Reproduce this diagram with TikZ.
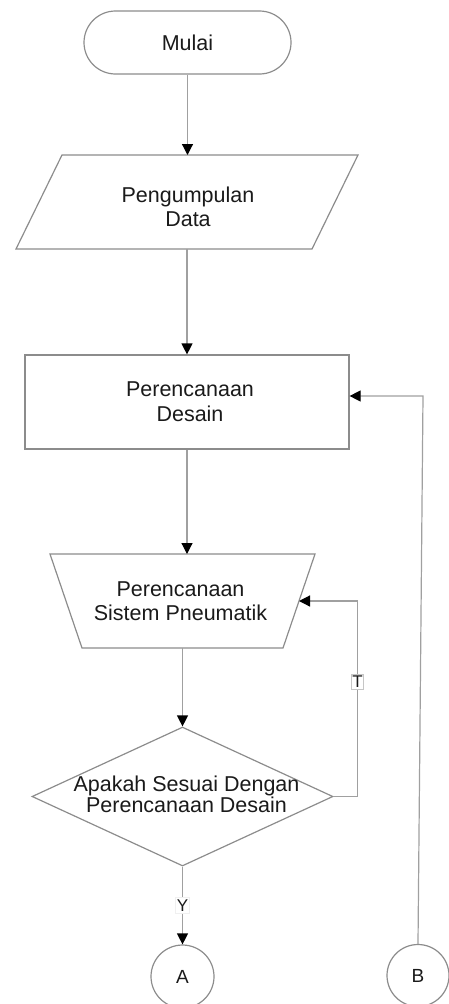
\documentclass[tikz,border=0pt]{standalone}
\usepackage{fontspec}
\setmainfont{Liberation Sans}
\usetikzlibrary{shapes.geometric,shapes.misc,arrows.meta,calc}
\definecolor{edgegray}{HTML}{8C8C8C}
\definecolor{linegray}{HTML}{A0A0A0}
\definecolor{txt}{HTML}{1A1A1A}
\begin{document}
\begin{tikzpicture}[x=1pt,y=-1pt,
  font=\fontsize{21.5}{24}\selectfont,
  shapebox/.style={draw=edgegray, line width=1.2pt, text=txt, inner sep=0pt},
  hidden/.style={draw=none, inner sep=0pt, outer sep=0pt},
  conn/.style={draw=linegray, line width=1.2pt, -{Triangle[length=11pt,width=11pt,color=black]}},
  textnode/.style={text=txt, align=center, inner sep=0pt},
  lbl/.style={fill=white, text=txt, inner xsep=1pt, inner ysep=2pt, font=\fontsize{17}{19}\selectfont}]
\useasboundingbox (0,0) rectangle (448,1004);

% shapes
\node[shapebox, rounded rectangle, minimum width=207pt, minimum height=63pt] (mulai) at (187.5,42.5) {Mulai};

\node[hidden, minimum width=342pt, minimum height=94pt] (pd) at (187,202) {};
\draw[shapebox] ([xshift=46pt]pd.north west) -- (pd.north east) -- ([xshift=-46pt]pd.south east) -- (pd.south west) -- cycle;
\node[textnode] (pdt) at (188,206.5) {Pengumpulan\\Data};

\node[shapebox, minimum width=324pt, minimum height=94pt] (rect) at (187,402) {};
\node[textnode, font=\fontsize{21.5}{25}\selectfont] (rectt) at (190,402) {Perencanaan\\Desain};

\node[hidden, minimum width=265pt, minimum height=94pt] (trap) at (182.5,601) {};
\draw[shapebox] (trap.north west) -- (trap.north east) -- ([xshift=-32pt]trap.south east) -- ([xshift=32pt]trap.south west) -- cycle;
\node[textnode, font=\fontsize{21.5}{24.5}\selectfont] (trapt) at (180.5,601) {Perencanaan\\Sistem Pneumatik};

\node[shapebox, diamond, minimum width=301pt, minimum height=139pt] (dec) at (182.5,796.5) {};
\node[textnode, font=\fontsize{21.5}{21}\selectfont] (dect) at (186.5,794.7) {Apakah Sesuai Dengan\\Perencanaan Desain};

\node[shapebox, circle, minimum size=63pt, font=\fontsize{19}{21}\selectfont] (A) at (182.5,976.5) {A};
\node[shapebox, circle, minimum size=62pt, font=\fontsize{19}{21}\selectfont] (B) at (418,975.5) {B};

% connectors
\draw[conn] (mulai.south) -- (mulai.south |- pd.north);
\draw[conn] (pd.south) -- (pd.south |- rect.north);
\draw[conn] (rect.south) -- (rect.south |- trap.north);
\draw[conn] (trap.south) -- (dec.north);
\draw[conn] (dec.south) -- node[lbl, draw=gray!12] (ylbl) {Y} (A.north);
\coordinate (trapE) at ([xshift=-16pt]trap.east);
\draw[conn] (dec.east) -- ++(24,0) |- node[pos=0.293, lbl, draw=gray!45, line width=0.8pt] (tlbl) {T} (trapE);
\coordinate (bturn) at (423,396);
\draw[conn] (B.north) -- (bturn) -- (rect.east |- bturn);
\end{tikzpicture}
\end{document}
